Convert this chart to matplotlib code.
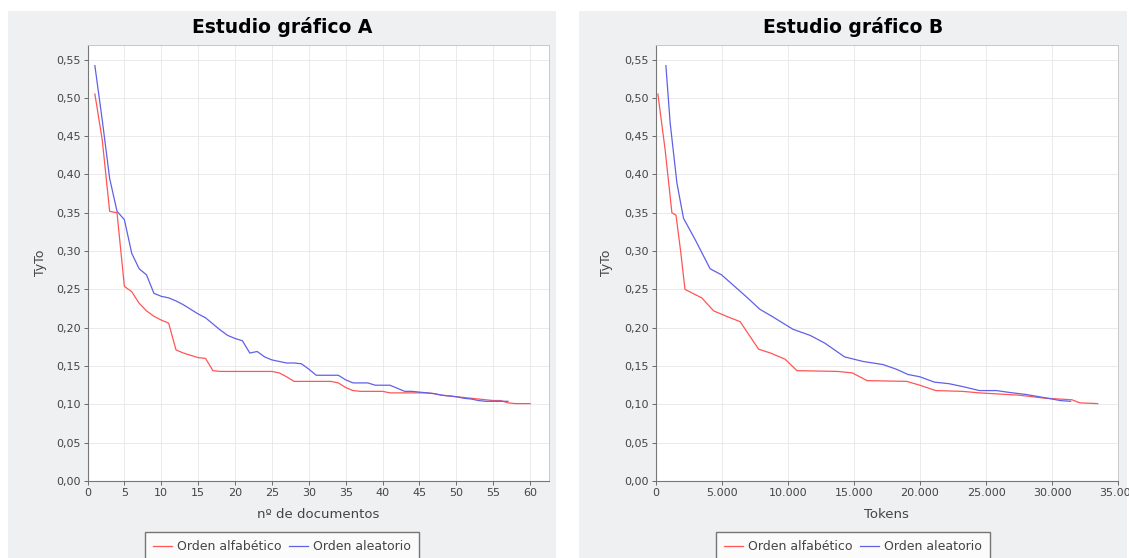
import matplotlib
matplotlib.use("Agg")
import matplotlib.pyplot as plt
from matplotlib.ticker import FuncFormatter, MultipleLocator

# Datos
# Estudio A: TyTo frente a numero de documentos
docs_alfa = list(range(1, 61))
tyto_alfa = [0.505, 0.445, 0.352, 0.350, 0.254, 0.247, 0.232, 0.222, 0.215, 0.210,
             0.206, 0.171, 0.167, 0.164, 0.161, 0.160, 0.144, 0.143, 0.143, 0.143,
             0.143, 0.143, 0.143, 0.143, 0.143, 0.141, 0.136, 0.130, 0.130, 0.130,
             0.130, 0.130, 0.130, 0.128, 0.122, 0.118, 0.117, 0.117, 0.117, 0.117,
             0.115, 0.115, 0.115, 0.115, 0.115, 0.115, 0.114, 0.112, 0.111, 0.110,
             0.109, 0.108, 0.107, 0.106, 0.105, 0.105, 0.102, 0.101, 0.101, 0.101]
docs_alea = list(range(1, 58))
tyto_alea = [0.542, 0.471, 0.395, 0.352, 0.341, 0.297, 0.277, 0.269, 0.245, 0.241,
             0.239, 0.235, 0.230, 0.224, 0.218, 0.213, 0.205, 0.197, 0.190, 0.186,
             0.183, 0.167, 0.169, 0.162, 0.158, 0.156, 0.154, 0.154, 0.153, 0.146,
             0.138, 0.138, 0.138, 0.138, 0.132, 0.128, 0.128, 0.128, 0.125, 0.125,
             0.125, 0.121, 0.117, 0.117, 0.116, 0.115, 0.114, 0.112, 0.111, 0.110,
             0.108, 0.107, 0.105, 0.104, 0.104, 0.104, 0.104]

# Estudio B: TyTo frente a tokens
tok_alfa = [180, 730, 1240, 1550, 1900, 2230, 3500, 4400, 5500, 6400, 7800, 8700,
            9800, 10700, 13800, 14900, 16000, 19000, 20000, 21200, 23200, 24500,
            27500, 29500, 31500, 32100, 33450]
tyto_b_alfa = [0.505, 0.432, 0.350, 0.347, 0.300, 0.250, 0.239, 0.222, 0.214, 0.208,
               0.172, 0.167, 0.159, 0.144, 0.143, 0.141, 0.131, 0.130, 0.125, 0.118,
               0.117, 0.115, 0.112, 0.108, 0.106, 0.102, 0.101]
tok_alea = [786, 1110, 1620, 2115, 3000, 4130, 5000, 6770, 7900, 8800, 10400, 11700,
            12800, 14300, 15700, 17200, 18200, 19100, 20000, 21100, 22200, 23300,
            24500, 25800, 26800, 28000, 30000, 30600, 31400]
tyto_b_alea = [0.542, 0.467, 0.389, 0.343, 0.315, 0.277, 0.269, 0.242, 0.224, 0.215,
               0.198, 0.190, 0.180, 0.162, 0.156, 0.152, 0.146, 0.139, 0.136, 0.129,
               0.127, 0.123, 0.118, 0.118, 0.1155, 0.113, 0.107, 0.105, 0.104]

W, H = 1129, 558
RED = "#ff5555"
BLUE = "#6060e8"
PANEL_BG = "#eef0f1"

fig = plt.figure(figsize=(W / 100, H / 100), dpi=100)
fig.patch.set_facecolor("white")


def px_rect(x0, y0, x1, y1):
    # caja en pixeles (origen arriba-izquierda) -> fraccion de figura
    return [x0 / W, (H - y1) / H, (x1 - x0) / W, (y1 - y0) / H]


def comma(v, pos):
    return f"{v:.2f}".replace(".", ",")


def miles(v, pos):
    return f"{int(round(v)):,}".replace(",", ".")


def make_panel(px0, px1, plot_box, title, xlabel, series, xlim, xstep, xfmt, ylab_x):
    # fondo gris del panel
    bg = fig.add_axes(px_rect(px0, 11, px1, H + 5), zorder=-5)
    bg.set_facecolor(PANEL_BG)
    bg.set_xticks([])
    bg.set_yticks([])
    for s in bg.spines.values():
        s.set_visible(False)

    ax = fig.add_axes(px_rect(*plot_box), zorder=1)
    ax.set_facecolor("white")
    for x, y, c in series:
        ax.plot(x, y, color=c, lw=0.9)
    ax.set_xlim(*xlim)
    ax.set_ylim(0, 0.569)
    ax.xaxis.set_major_locator(MultipleLocator(xstep))
    ax.yaxis.set_major_locator(MultipleLocator(0.05))
    ax.xaxis.set_major_formatter(FuncFormatter(xfmt))
    ax.yaxis.set_major_formatter(FuncFormatter(comma))
    ax.grid(True, color="#e6e6e6", lw=0.6)
    ax.set_axisbelow(True)
    ax.tick_params(labelsize=8, colors="#555555", labelcolor="#444444",
                   length=3, width=0.6, pad=2)
    for s in ["top", "right"]:
        ax.spines[s].set_color("#c8c8c8")
        ax.spines[s].set_linewidth(0.7)
    for s in ["left", "bottom"]:
        ax.spines[s].set_color("#777777")
        ax.spines[s].set_linewidth(0.8)
    ax.set_xlabel(xlabel, fontsize=9.5, color="#444444")
    ax.xaxis.set_label_coords(0.5, -0.062)
    ax.set_ylabel("TyTo", fontsize=9, color="#444444")
    ax.yaxis.set_label_coords((ylab_x - plot_box[0]) / (plot_box[2] - plot_box[0]), 0.5)

    cx = (px0 + px1) / 2
    fig.text(cx / W, 1 - 27 / H, title, ha="center", va="center",
             fontsize=13.5, fontweight="bold")
    leg = fig.legend(ax.lines[:2], ["Orden alfabético", "Orden aleatorio"],
                     loc="upper center", bbox_to_anchor=(cx / W, 1 - 531.5 / H),
                     ncol=2, fontsize=9, frameon=True, fancybox=False,
                     borderpad=0.7, handlelength=1.5, handletextpad=0.4,
                     columnspacing=0.6, borderaxespad=0)
    leg.set_zorder(3)
    leg.get_frame().set_edgecolor("#555555")
    leg.get_frame().set_linewidth(1.0)
    leg.get_frame().set_facecolor("white")
    for t in leg.get_texts():
        t.set_color("#444444")
    return ax


make_panel(8, 556, (87.5, 45, 549.3, 481), "Estudio gráfico A", "nº de documentos",
           [(docs_alfa, tyto_alfa, RED), (docs_alea, tyto_alea, BLUE)],
           (0, 62.6), 5, lambda v, p: f"{int(round(v))}", 47)

make_panel(579, 1127, (655.5, 45, 1118.2, 481), "Estudio gráfico B", "Tokens",
           [(tok_alfa, tyto_b_alfa, RED), (tok_alea, tyto_b_alea, BLUE)],
           (0, 35000), 5000, miles, 613)

fig.savefig("out.png", dpi=100, facecolor=fig.get_facecolor())
